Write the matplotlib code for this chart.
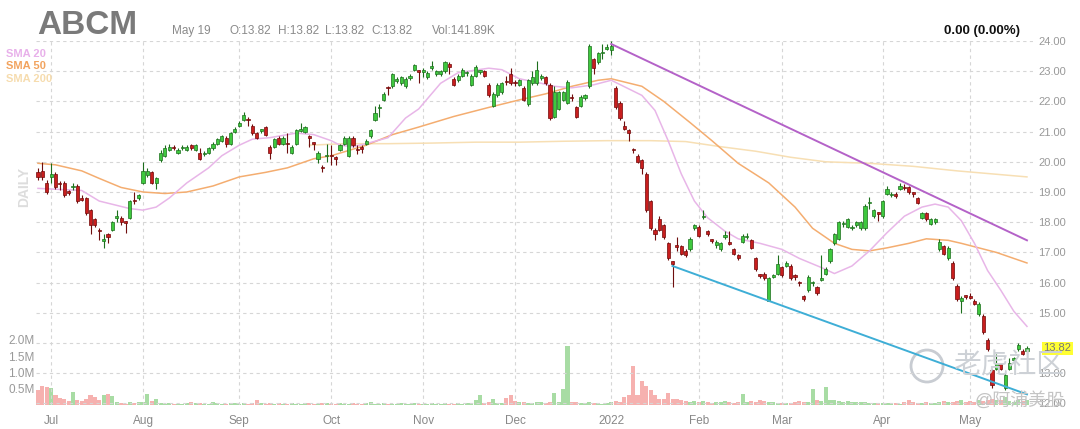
import numpy as np
import pandas as pd
import matplotlib
matplotlib.use('Agg')
import matplotlib.pyplot as plt
import matplotlib.patches as mpatches
import matplotlib.transforms as mtrans

plt.rcParams['font.family'] = ['Liberation Sans', 'Noto Sans CJK SC', 'DejaVu Sans']

# 交易日 2021-06-28 ~ 2022-05-19 (去掉美股假期)
holidays = ['2021-07-05', '2021-09-06', '2021-11-25', '2021-12-24',
            '2022-01-17', '2022-02-21', '2022-04-15']
dates = pd.bdate_range('2021-06-28', '2022-05-19')
dates = dates[~dates.isin(pd.to_datetime(holidays))]

# K线数据 (按月分段)
opens = [
    # Jun/Jul
    19.65, 19.70, 19.30, 19.50, 19.60, 19.30, 19.30, 19.00, 19.15, 19.20, 18.80, 18.80,
    18.40, 18.10, 17.75, 17.38, 17.60, 17.75, 18.15, 18.15, 18.00, 18.15, 18.75, 18.80,
    # Aug
    19.30, 19.55, 19.65, 19.30, 20.05, 20.20, 20.40, 20.50, 20.30, 20.45, 20.40, 20.55,
    20.40, 20.30, 20.25, 20.30, 20.45, 20.60, 20.70, 20.80, 20.60, 21.00,
    # Sep
    21.20, 21.40, 21.42, 21.20, 20.95, 21.03, 21.15, 20.50, 20.50, 20.80, 20.60, 20.62,
    20.30, 20.60, 21.03, 21.00, 20.85, 20.62, 20.10, 19.82, 20.18,
    # Oct
    20.20, 20.15, 20.40, 20.60, 20.20, 20.80, 20.42, 20.47, 20.60, 20.85, 21.40, 21.78,
    22.05, 22.47, 22.50, 22.68, 22.60, 22.50, 22.78, 23.05, 23.02,
    # Nov
    22.98, 22.80, 23.12, 22.90, 22.90, 23.00, 23.25, 22.75, 22.70, 22.85, 22.93, 22.55,
    22.85, 22.98, 23.00, 22.55, 21.85, 22.20, 22.30, 22.67, 22.90,
    # Dec
    22.62, 22.55, 22.45, 21.90, 22.60, 22.60, 22.78, 22.80, 22.55, 21.50, 21.75, 22.05,
    21.95, 22.15, 21.80, 21.85, 22.10, 22.50, 23.40, 23.30, 23.60, 23.75,
    # Jan
    23.70, 22.45, 21.95, 21.20, 21.05, 20.42, 20.20, 20.05, 19.60, 18.70, 17.75, 18.10,
    17.90, 17.30, 16.70, 17.20, 17.20, 17.05, 17.10, 17.80,
    # Feb
    17.85, 18.17, 17.70, 17.42, 17.25, 17.10, 17.52, 17.32, 17.10, 16.90, 17.35, 17.50,
    17.40, 16.80, 16.27, 16.30, 15.40, 16.20, 16.30,
    # Mar
    16.50, 16.55, 16.55, 16.25, 16.02, 15.55, 15.75, 15.98, 15.85, 16.10, 16.30, 16.70,
    17.30, 17.45, 17.93, 17.85, 17.80, 17.90, 17.80, 17.80, 18.63, 18.20, 18.30,
    # Apr
    18.20, 18.95, 18.90, 18.90, 19.10, 19.18, 19.15, 18.96, 18.80, 18.15, 18.30, 17.95,
    18.00, 17.10, 17.20, 16.80, 16.65, 15.90, 15.40, 15.57,
    # May
    15.52, 15.40, 14.95, 14.90, 14.10, 13.10, 13.15, 13.30, 12.50, 13.15, 13.45, 13.80,
    13.75, 13.72,
]
highs = [
    19.80, 20.00, 19.40, 19.95, 19.65, 19.35, 19.35, 19.05, 19.30, 19.25, 18.90, 18.85,
    18.45, 18.15, 17.80, 17.60, 17.65, 18.05, 18.40, 18.20, 18.05, 18.75, 19.00, 18.95,
    20.00, 19.80, 19.70, 19.50, 20.40, 20.55, 20.60, 20.55, 20.45, 20.55, 20.55, 20.60,
    20.60, 20.45, 20.35, 20.50, 20.65, 20.80, 20.90, 20.85, 21.00, 21.15,
    21.35, 21.65, 21.50, 21.25, 21.00, 21.10, 21.20, 20.55, 20.80, 20.85, 20.85, 20.95,
    20.55, 21.10, 21.30, 21.20, 20.90, 20.65, 20.35, 19.90, 20.60,
    20.55, 20.20, 20.60, 20.85, 20.85, 20.85, 20.55, 20.55, 20.75, 21.10, 21.85, 21.90,
    22.30, 22.50, 22.95, 22.80, 22.85, 22.80, 22.90, 23.25, 23.05,
    23.10, 23.00, 23.35, 23.05, 23.05, 23.35, 23.30, 22.80, 22.90, 23.10, 23.00, 22.90,
    23.20, 23.05, 23.05, 22.60, 22.30, 22.60, 22.65, 22.85, 23.10,
    22.70, 22.75, 22.50, 22.75, 23.00, 23.35, 22.90, 22.85, 22.60, 22.50, 22.35, 22.35,
    22.70, 22.25, 21.85, 22.20, 22.25, 23.90, 23.45, 23.65, 23.90, 23.90,
    24.00, 22.50, 22.00, 21.35, 21.10, 20.45, 20.25, 20.10, 19.65, 18.75, 17.80, 18.20,
    17.95, 17.35, 16.72, 17.50, 17.25, 17.10, 17.50, 17.95,
    17.90, 18.40, 17.75, 17.45, 17.40, 17.35, 17.70, 17.70, 17.15, 16.95, 17.60, 17.65,
    17.45, 16.85, 16.30, 16.35, 16.20, 16.30, 16.90,
    16.55, 16.70, 16.60, 16.30, 16.05, 15.60, 16.25, 16.05, 15.90, 16.90, 16.50, 17.15,
    17.65, 18.05, 18.05, 18.15, 17.90, 18.05, 18.05, 18.60, 18.85, 18.45, 18.35,
    18.75, 19.20, 19.00, 19.00, 19.30, 19.25, 19.20, 19.00, 18.85, 18.35, 18.35, 18.15,
    18.15, 17.45, 17.25, 17.20, 16.70, 15.95, 15.55, 15.60,
    15.65, 15.45, 15.35, 14.95, 14.15, 13.15, 13.65, 13.35, 13.00, 13.50, 13.55, 14.00,
    13.80, 13.90,
]
lows = [
    19.40, 19.40, 18.95, 19.30, 19.10, 19.05, 18.85, 18.90, 19.05, 18.65, 18.70, 18.25,
    17.60, 17.85, 17.40, 17.15, 17.30, 17.70, 18.00, 17.90, 17.65, 18.10, 18.60, 18.75,
    19.25, 19.50, 19.25, 19.10, 20.00, 20.15, 20.35, 20.40, 20.25, 20.40, 20.35, 20.40,
    20.35, 20.05, 20.20, 20.25, 20.40, 20.55, 20.65, 20.50, 20.55, 20.95,
    21.15, 21.35, 21.20, 20.90, 20.75, 20.95, 20.85, 20.10, 20.45, 20.55, 20.55, 20.30,
    20.25, 20.55, 21.00, 20.95, 20.50, 20.40, 19.95, 19.65, 20.00,
    19.90, 19.90, 20.35, 20.55, 20.15, 20.50, 20.25, 20.30, 20.55, 20.80, 21.35, 21.50,
    22.00, 22.20, 22.45, 22.60, 22.55, 22.45, 22.70, 23.00, 22.60,
    22.80, 22.75, 23.05, 22.85, 22.85, 22.95, 22.90, 22.50, 22.65, 22.80, 22.85, 22.50,
    22.80, 22.90, 22.80, 22.15, 21.80, 22.15, 22.25, 22.55, 22.55,
    22.50, 22.50, 22.00, 21.85, 22.55, 22.55, 22.70, 22.55, 21.40, 21.45, 21.70, 22.00,
    21.90, 22.00, 21.45, 21.80, 22.05, 22.45, 22.90, 23.25, 23.40, 23.70,
    23.55, 21.75, 21.40, 21.05, 20.70, 20.30, 19.95, 19.60, 18.35, 17.75, 17.40, 17.70,
    17.45, 16.75, 15.85, 17.05, 16.90, 16.85, 17.05, 17.75,
    17.50, 18.10, 17.55, 17.30, 17.15, 17.05, 17.45, 17.25, 16.90, 16.75, 17.30, 17.45,
    17.10, 16.40, 16.15, 16.10, 15.40, 16.15, 16.25,
    16.20, 16.50, 16.10, 16.10, 15.90, 15.40, 15.70, 15.90, 15.60, 16.05, 16.25, 16.65,
    17.25, 17.40, 17.85, 17.80, 17.75, 17.85, 17.75, 17.75, 18.45, 18.15, 18.05,
    18.15, 18.90, 18.85, 18.80, 19.05, 19.05, 18.95, 18.85, 18.60, 18.10, 18.05, 17.90,
    17.95, 17.05, 16.90, 16.75, 16.10, 15.40, 15.00, 15.45,
    15.45, 15.25, 14.90, 14.30, 13.75, 12.50, 13.10, 13.10, 12.45, 13.10, 13.40, 13.75,
    13.60, 13.65,
]
closes = [
    19.50, 19.50, 19.00, 19.60, 19.15, 19.25, 18.90, 18.97, 19.20, 18.70, 18.75, 18.30,
    17.90, 17.90, 17.70, 17.42, 17.50, 18.00, 18.20, 18.00, 17.98, 18.70, 18.70, 18.90,
    19.70, 19.70, 19.30, 19.45, 20.30, 20.45, 20.50, 20.45, 20.40, 20.50, 20.50, 20.45,
    20.55, 20.10, 20.30, 20.45, 20.60, 20.75, 20.85, 20.60, 20.95, 21.10,
    21.30, 21.55, 21.38, 20.95, 20.80, 21.07, 20.90, 20.30, 20.75, 20.60, 20.80, 20.58,
    20.50, 21.05, 21.07, 21.15, 20.80, 20.60, 20.30, 19.78, 20.22,
    20.18, 20.10, 20.55, 20.80, 20.80, 20.55, 20.38, 20.43, 20.70, 21.05, 21.60, 21.82,
    22.25, 22.43, 22.90, 22.72, 22.80, 22.75, 22.82, 23.20, 22.98,
    23.02, 22.95, 23.17, 23.00, 23.00, 23.30, 23.15, 22.55, 22.85, 23.05, 22.97, 22.85,
    23.15, 23.00, 22.85, 22.20, 22.25, 22.55, 22.60, 22.63, 22.60,
    22.60, 22.70, 22.05, 22.70, 22.80, 23.05, 22.82, 22.60, 21.45, 22.30, 22.30, 22.30,
    22.65, 22.10, 21.50, 22.15, 22.20, 23.85, 23.10, 23.60, 23.65, 23.80,
    23.85, 21.80, 21.45, 21.10, 20.95, 20.38, 20.00, 19.80, 18.40, 17.80, 17.60, 17.75,
    17.50, 16.80, 16.62, 17.18, 16.95, 16.90, 17.45, 17.90,
    17.55, 18.22, 17.60, 17.38, 17.35, 17.30, 17.57, 17.28, 16.95, 16.80, 17.55, 17.55,
    17.15, 16.45, 16.23, 16.15, 16.15, 16.25, 16.60,
    16.25, 16.65, 16.15, 16.20, 15.98, 15.45, 16.20, 16.02, 15.65, 16.15, 16.45, 17.10,
    17.60, 18.00, 17.97, 18.10, 17.82, 18.00, 18.00, 18.55, 18.67, 18.40, 18.28,
    18.70, 19.10, 18.92, 18.88, 19.20, 19.12, 19.00, 18.94, 18.65, 18.30, 18.10, 18.10,
    18.10, 17.35, 16.95, 17.15, 16.15, 15.45, 15.50, 15.53,
    15.50, 15.30, 15.30, 14.35, 13.80, 12.60, 13.35, 13.15, 12.95, 13.35, 13.50, 13.95,
    13.65, 13.82,
]
# 成交量 (百万股)
volumes = [
    0.45, 0.58, 0.55, 0.52, 0.30, 0.22, 0.18, 0.12, 0.40, 0.15, 0.12, 0.18,
    0.30, 0.25, 0.15, 0.30, 0.35, 0.28, 0.08, 0.06, 0.04, 0.08, 0.05, 0.08,
    0.10, 0.33, 0.12, 0.18, 0.06, 0.04, 0.05, 0.03, 0.04, 0.03, 0.05, 0.08,
    0.06, 0.05, 0.04, 0.03, 0.08, 0.05, 0.04, 0.03, 0.06, 0.05,
    0.04, 0.05, 0.03, 0.06, 0.15, 0.05, 0.04, 0.06, 0.03, 0.05, 0.04, 0.03,
    0.05, 0.04, 0.03, 0.06, 0.05, 0.04, 0.03, 0.05, 0.06,
    0.04, 0.03, 0.05, 0.04, 0.03, 0.05, 0.04, 0.03, 0.06, 0.10, 0.04, 0.03,
    0.05, 0.04, 0.03, 0.04, 0.05, 0.03, 0.04, 0.05, 0.04,
    0.03, 0.04, 0.05, 0.03, 0.04, 0.05, 0.03, 0.04, 0.05, 0.03, 0.06, 0.05,
    0.15, 0.32, 0.05, 0.08, 0.20, 0.06, 0.05, 0.22, 0.30,
    0.12, 0.08, 0.10, 0.06, 0.05, 0.08, 0.10, 0.06, 0.08, 0.37, 0.10, 0.50,
    1.83, 0.10, 0.08, 0.06, 0.05, 0.10, 0.06, 0.05, 0.04, 0.06,
    0.08, 0.12, 0.10, 0.25, 0.30, 1.20, 0.30, 0.75, 0.60, 0.45, 0.30, 0.20,
    0.20, 0.38, 0.20, 0.18, 0.15, 0.12, 0.10, 0.12,
    0.10, 0.12, 0.08, 0.06, 0.08, 0.10, 0.12, 0.08, 0.06, 0.08, 0.35, 0.08,
    0.12, 0.10, 0.15, 0.12, 0.10, 0.08, 0.06,
    0.06, 0.05, 0.06, 0.08, 0.12, 0.10, 0.08, 0.50, 0.15, 0.12, 0.55, 0.15,
    0.14, 0.12, 0.10, 0.12, 0.10, 0.08, 0.10, 0.08, 0.06, 0.05, 0.06,
    0.06, 0.05, 0.06, 0.05, 0.04, 0.08, 0.15, 0.10, 0.06, 0.05, 0.08, 0.06,
    0.05, 0.10, 0.12, 0.08, 0.10, 0.12, 0.14, 0.10,
    0.12, 0.10, 0.14, 0.12, 0.15, 0.20, 0.16, 0.14, 0.25, 0.12, 0.10, 0.14,
    0.12, 0.14,
]

# 均线 (从图上读取的采样点)
sma20_dates = ['2021-06-28', '2021-07-13', '2021-07-19', '2021-07-28', '2021-08-02', '2021-08-05',
               '2021-08-10', '2021-08-16', '2021-08-23', '2021-08-26', '2021-09-01', '2021-09-07',
               '2021-09-13', '2021-09-21', '2021-09-27', '2021-10-01', '2021-10-05', '2021-10-08',
               '2021-10-13', '2021-10-20', '2021-10-26', '2021-10-29', '2021-11-05', '2021-11-11',
               '2021-11-22', '2021-11-26', '2021-12-02', '2021-12-09', '2021-12-14', '2021-12-20',
               '2021-12-28', '2022-01-03', '2022-01-12', '2022-01-18', '2022-01-21', '2022-01-26',
               '2022-01-31', '2022-02-03', '2022-02-09', '2022-02-14', '2022-02-22', '2022-03-01',
               '2022-03-07', '2022-03-14', '2022-03-17', '2022-03-23', '2022-03-29', '2022-04-04',
               '2022-04-08', '2022-04-14', '2022-04-20', '2022-04-25', '2022-04-28', '2022-05-03',
               '2022-05-06', '2022-05-11', '2022-05-16', '2022-05-19']
sma20_vals = [19.12, 19.05, 18.70, 18.45, 18.40, 18.50, 18.80, 19.30, 19.80, 20.20, 20.55, 20.75,
              20.80, 20.95, 20.90, 20.70, 20.55, 20.50, 20.60, 20.80, 21.45, 21.75, 22.60, 22.95,
              23.10, 23.05, 22.75, 22.60, 22.50, 22.45, 22.55, 22.70, 22.20, 21.70, 20.70, 19.60,
              18.70, 18.15, 17.70, 17.45, 17.30, 17.10, 16.80, 16.50, 16.30, 16.55, 17.05, 17.65,
              18.20, 18.50, 18.60, 18.50, 18.05, 17.30, 16.40, 15.75, 15.05, 14.55]
sma50_dates = ['2021-06-28', '2021-07-02', '2021-07-13', '2021-07-19', '2021-07-26', '2021-08-02',
               '2021-08-09', '2021-08-16', '2021-08-24', '2021-09-01', '2021-09-10', '2021-09-17',
               '2021-09-27', '2021-10-01', '2021-10-13', '2021-10-21', '2021-10-29', '2021-11-10',
               '2021-11-22', '2021-12-02', '2021-12-10', '2021-12-20', '2021-12-29', '2022-01-03',
               '2022-01-12', '2022-01-20', '2022-01-28', '2022-02-04', '2022-02-14', '2022-02-24',
               '2022-03-04', '2022-03-10', '2022-03-17', '2022-03-23', '2022-03-29', '2022-04-04',
               '2022-04-11', '2022-04-18', '2022-04-25', '2022-04-28', '2022-05-04', '2022-05-10',
               '2022-05-16', '2022-05-19']
sma50_vals = [19.95, 19.90, 19.70, 19.45, 19.15, 19.00, 18.95, 19.00, 19.20, 19.50, 19.65, 19.80,
              20.10, 20.20, 20.55, 20.90, 21.15, 21.50, 21.80, 22.05, 22.25, 22.50, 22.70, 22.75,
              22.50, 22.00, 21.30, 20.70, 19.95, 19.30, 18.50, 17.80, 17.30, 17.10, 17.05, 17.15,
              17.30, 17.45, 17.40, 17.30, 17.15, 17.00, 16.80, 16.65]
sma200_dates = ['2021-09-24', '2021-10-06', '2021-10-20', '2021-11-03', '2021-11-17', '2021-12-02',
                '2021-12-16', '2021-12-31', '2022-01-14', '2022-01-27', '2022-02-08', '2022-02-18',
                '2022-03-03', '2022-03-15', '2022-03-29', '2022-04-12', '2022-04-27', '2022-05-09',
                '2022-05-19']
sma200_vals = [20.55, 20.60, 20.60, 20.62, 20.65, 20.65, 20.68, 20.70, 20.70, 20.67, 20.50, 20.35,
               20.15, 20.00, 19.95, 19.85, 19.70, 19.60, 19.50]

# 趋势线端点
resist_dates = ['2022-01-03', '2022-05-19']
resist_vals = [23.9, 17.4]
support_dates = ['2022-01-24', '2022-05-19']
support_vals = [16.55, 12.3]

W, H = 1080, 429
fig = plt.figure(figsize=(W / 100, H / 100), dpi=100)
ax_l, ax_r, ax_t, ax_b = 35.8, 1033, 41, 405
ax = fig.add_axes([ax_l / W, 1 - ax_b / H, (ax_r - ax_l) / W, (ax_b - ax_t) / H])
axv = ax.twinx()
ax.set_zorder(axv.get_zorder() + 1)
ax.patch.set_visible(False)

x = np.arange(len(dates))
o, h, l, c = map(np.array, (opens, highs, lows, closes))
up = c >= o

# 成交量
vcol = np.where(up, '#a8dca4', '#f6b1af')
axv.bar(x, volumes, 0.92, color=vcol, linewidth=0)
axv.set_ylim(0, (ax_b - ax_t) / 32.5)
axv.set_yticks([0.5, 1.0, 1.5, 2.0])
axv.set_yticklabels(['0.5M', '1.0M', '1.5M', '2.0M'])
axv.yaxis.tick_left()
axv.tick_params(axis='y', length=0, pad=1, labelsize=8.5, labelcolor='#999999')

# 均线
def pos(ds):
    return dates.get_indexer(pd.to_datetime(ds))

ax.plot(pos(sma200_dates), sma200_vals, color='#f7dfb4', lw=1.1, zorder=2)
ax.plot(pos(sma50_dates), sma50_vals, color='#f4ad70', lw=1.1, zorder=2)
ax.plot(pos(sma20_dates), sma20_vals, color='#e8b6e8', lw=1.1, zorder=2)

# 趋势线
ax.plot(pos(resist_dates), resist_vals, color='#b462c8', lw=1.4, zorder=5)
ax.plot(pos(support_dates), support_vals, color='#3eaed6', lw=1.4, zorder=5)

# K线
body_lo = np.minimum(o, c)
body_h = np.maximum(np.abs(c - o), 0.05)
ax.vlines(x[up], l[up], h[up], color='#1d6e1d', lw=0.8, zorder=3)
ax.vlines(x[~up], l[~up], h[~up], color='#6e0e0e', lw=0.8, zorder=3)
ax.bar(x[up], body_h[up], 0.72, bottom=body_lo[up], color='#3ec83e',
       edgecolor='#1d6e1d', linewidth=0.5, zorder=4)
ax.bar(x[~up], body_h[~up], 0.72, bottom=body_lo[~up], color='#c81e1e',
       edgecolor='#700808', linewidth=0.5, zorder=4)

# 坐标轴
ax.set_xlim(-0.5, (ax_r - 38) / 4.376)
ax.set_ylim(24 - (ax_b - ax_t) / 30.2, 24.0)
ax.yaxis.tick_right()
price_ticks = np.arange(12, 25)
ax.set_yticks(price_ticks)
# 14.00 被最新价标签遮住
ax.set_yticklabels(['' if v == 14 else '%.2f' % v for v in price_ticks])
month_idx = [i for i in range(1, len(dates)) if dates[i].month != dates[i - 1].month]
month_lab = [dates[i].strftime('%b') if dates[i].month != 1 else str(dates[i].year) for i in month_idx]
ax.set_xticks(month_idx)
ax.set_xticklabels(month_lab)
ax.tick_params(axis='y', length=0, pad=4, labelsize=8, labelcolor='#999999')
ax.tick_params(axis='x', length=0, pad=7, labelsize=8.5, labelcolor='#888888')
ax.grid(True, color='#d6d6d6', linestyle=(0, (3, 3)), linewidth=0.8)
axv.set_xlim(ax.get_xlim())
for a in (ax, axv):
    for s in a.spines.values():
        s.set_visible(False)

# 最新价标签
ax.text(1.0105, c[-1], '%.2f' % c[-1], transform=ax.get_yaxis_transform(), fontsize=8,
        color='#777777', va='center', ha='left', zorder=6,
        bbox=dict(facecolor='#ffff33', edgecolor='none', pad=1.2))

# 标题区
def ft(px, py, s, **kw):
    fig.text(px / W, 1 - py / H, s, **kw)

ft(37, 34, 'ABCM', fontsize=24, fontweight='bold', color='#7a7a7a', va='baseline')
for px, s in [(172, 'May 19'), (229, 'O:13.82'), (278, 'H:13.82'), (325, 'L:13.82'),
              (371, 'C:13.82'), (432, 'Vol:141.89K')]:
    ft(px, 34, s, fontsize=8.5, color='#8a8a8a', va='baseline')
ft(1020, 34, '0.00 (0.00%)', fontsize=9.5, fontweight='bold', color='#111111', va='baseline', ha='right')
ft(6, 54, 'SMA 20', fontsize=8, fontweight='bold', color='#e8b0ea', va='center')
ft(6, 66, 'SMA 50', fontsize=8, fontweight='bold', color='#f2a35e', va='center')
ft(6, 79, 'SMA 200', fontsize=8, fontweight='bold', color='#f6dcae', va='center')
ft(24, 187, 'DAILY', fontsize=10, fontweight='bold', color='#dddddd', rotation=90,
   va='center', ha='center')

# 水印
fig.add_artist(mpatches.Circle((927, H - 366), 16, transform=mtrans.IdentityTransform(),
                               fill=False, edgecolor='#c8ccd2', linewidth=2))
ft(1009, 366, '老虎社区', fontsize=20, color='#cdd1d6', ha='center', va='center')
ft(1020, 401, '@阿浦美股', fontsize=13, color='#c4c4c4', ha='center', va='center')

fig.savefig('out.png', dpi=100)
